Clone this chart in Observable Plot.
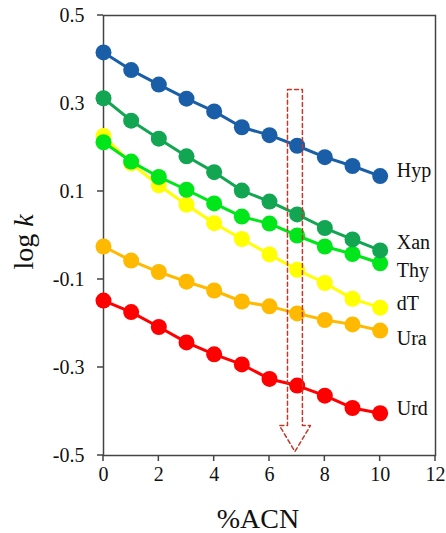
<!DOCTYPE html>
<html><head><meta charset="utf-8">
<script src="https://cdn.jsdelivr.net/npm/d3@7"></script>
<script src="https://cdn.jsdelivr.net/npm/@observablehq/plot@0.6"></script>
<style>body{margin:0;background:#fff}</style>
</head><body><div id="chart"></div>
<script>
const acn = [0,1,2,3,4,5,6,7,8,9,10];
const hyp = [0.416,0.376,0.343,0.311,0.282,0.246,0.228,0.204,0.178,0.158,0.135];
const xan = [0.312,0.261,0.220,0.180,0.144,0.102,0.077,0.048,0.017,-0.009,-0.034];
const thy = [0.212,0.168,0.133,0.104,0.073,0.043,0.027,0.000,-0.025,-0.042,-0.063];
const dT  = [0.226,0.164,0.114,0.070,0.028,-0.008,-0.043,-0.078,-0.108,-0.144,-0.164];
const ura = [-0.025,-0.057,-0.083,-0.105,-0.125,-0.150,-0.161,-0.177,-0.192,-0.202,-0.216];
const urd = [-0.148,-0.174,-0.208,-0.243,-0.270,-0.293,-0.326,-0.341,-0.364,-0.392,-0.404];
const seriesNames = ["Hyp","Xan","Thy","dT","Ura","Urd"];
const seriesValues = [hyp, xan, thy, dT, ura, urd];
const seriesColors = ["#1a5ea8","#12a552","#00e61a","#ffff00","#ffb900","#ff0000"];
const labelX = 10.6;
const labelY = [0.148,-0.016,-0.080,-0.155,-0.234,-0.393];
const xTicks = [0,2,4,6,8,10,12];
const yTicks = [-0.5,-0.3,-0.1,0.1,0.3,0.5];
const xTickLabels = ["0","2","4","6","8","10","12"];
const yTickLabels = ["-0.5","-0.3","-0.1","0.1","0.3","0.5"];
// dashed down-arrow annotation (data coordinates)
const arrowX = [6.65,7.19,7.19,7.48,6.92,6.36,6.65,6.65];
const arrowY = [0.332,0.332,-0.432,-0.432,-0.491,-0.432,-0.432,0.332];

const rows = [];
seriesNames.forEach((s,i)=>acn.forEach((x,j)=>rows.push({series:s, x, y:seriesValues[i][j]})));
const arrow = arrowX.map((x,i)=>({x, y:arrowY[i]}));
const labels = seriesNames.map((s,i)=>({series:s, x:labelX, y:labelY[i]}));
const xt = xTicks.map((v,i)=>({v, t:xTickLabels[i]}));
const yt = yTicks.map((v,i)=>({v, t:yTickLabels[i]}));

const serif = "'Liberation Serif', 'DejaVu Serif', serif";
const axisColor = "#444";

const seriesMarks = [];
[...seriesNames].reverse().forEach(s=>{
  const d = rows.filter(r=>r.series===s);
  seriesMarks.push(Plot.line(d,{x:"x",y:"y",stroke:"series",strokeWidth:3}));
  seriesMarks.push(Plot.dot(d,{x:"x",y:"y",fill:"series",r:8,stroke:null}));
});

// tick marks drawn through the plot's scales
function tickMarks(index, scales, values, dims) {
  const g = d3.create("svg:g").attr("stroke",axisColor).attr("stroke-width",1.5);
  const yb = dims.height - dims.marginBottom, xl = dims.marginLeft;
  for (const v of xTicks) { const px = scales.x(v); g.append("line").attr("x1",px).attr("x2",px).attr("y1",yb).attr("y2",yb+6); }
  for (const v of yTicks) { const py = scales.y(v); g.append("line").attr("x1",xl-6).attr("x2",xl).attr("y1",py).attr("y2",py); }
  return g.node();
}
function yLabel(index, scales, values, dims) {
  const t = d3.create("svg:text")
    .attr("transform",`translate(33,242) rotate(-90)`)
    .attr("text-anchor","middle")
    .attr("font-family",serif)
    .attr("font-size",28)
    .attr("fill","#111");
  t.append("tspan").text("log ");
  t.append("tspan").attr("font-style","italic").text("k");
  return t.node();
}
function xLabel(index, scales, values, dims) {
  const t = d3.create("svg:text")
    .attr("x",258).attr("y",528)
    .attr("text-anchor","middle")
    .attr("font-family",serif)
    .attr("font-size",28)
    .attr("fill","#111")
    .text("%ACN");
  return t.node();
}

const chart = Plot.plot({
  width:446, height:533,
  marginLeft:103, marginRight:11, marginTop:15, marginBottom:78,
  style:{fontFamily:serif, background:"#fff"},
  x:{domain:[0,12], axis:null},
  y:{domain:[-0.5,0.5], axis:null},
  color:{domain:seriesNames, range:seriesColors},
  marks:[
    Plot.frame({stroke:axisColor, strokeWidth:1.5}),
    tickMarks,
    Plot.text(xt,{x:"v", frameAnchor:"bottom", dy:25, text:"t", fontSize:20, fill:"#111", fontFamily:serif}),
    Plot.text(yt,{y:"v", frameAnchor:"left", dx:-19, textAnchor:"end", text:"t", fontSize:20, fill:"#111", fontFamily:serif}),
    ...seriesMarks,
    Plot.line(arrow,{x:"x",y:"y",stroke:"#c0392b",strokeWidth:1.5,strokeDasharray:"4,3"}),
    Plot.text(labels,{x:"x",y:"y",text:"series",textAnchor:"start",fontSize:20,fill:"#111",fontFamily:serif}),
    yLabel, xLabel
  ]
});
document.getElementById("chart").appendChild(chart);
</script>
</body></html>
